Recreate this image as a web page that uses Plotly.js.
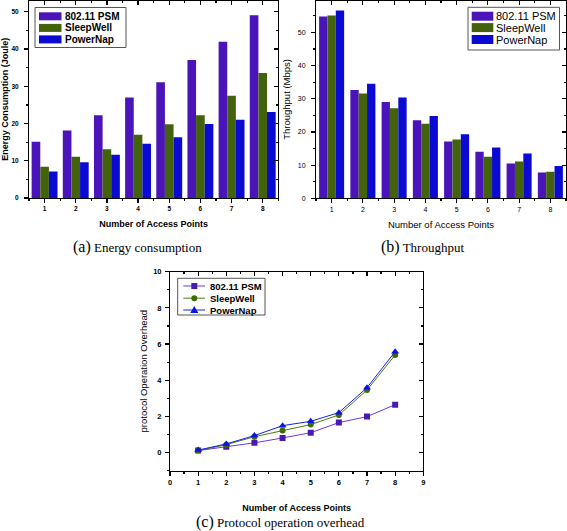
<!DOCTYPE html>
<html><head><meta charset="utf-8">
<script src="https://cdn.plot.ly/plotly-3.0.1.min.js"></script>
<style>html,body{margin:0;padding:0;background:#fff}</style>
</head><body><div id="chart" style="width:567px;height:531px"></div>
<script>
// ---- data ----
const accessPoints = [1, 2, 3, 4, 5, 6, 7, 8];
const seriesNames = ['802.11 PSM', 'SleepWell', 'PowerNap'];
const energyPSM = [15.1, 18.1, 22.2, 27.0, 31.1, 37.1, 42.0, 49.1];
const energySleepWell = [8.4, 11.1, 13.1, 17.0, 19.8, 22.2, 27.5, 33.6];
const energyPowerNap = [7.1, 9.6, 11.6, 14.6, 16.3, 19.9, 21.0, 23.1];
const throughputPSM = [54.8, 32.6, 29.0, 23.5, 17.1, 14.0, 10.5, 7.8];
const throughputSleepWell = [55.1, 31.6, 27.1, 22.5, 17.7, 12.5, 11.1, 8.0];
const throughputPowerNap = [56.6, 34.5, 30.4, 24.8, 19.3, 15.3, 13.5, 9.7];
const overheadPSM = [0.11, 0.33, 0.54, 0.81, 1.10, 1.66, 1.99, 2.65];
const overheadSleepWell = [0.11, 0.44, 0.88, 1.22, 1.55, 2.08, 3.46, 5.40];
const overheadPowerNap = [0.14, 0.48, 0.94, 1.49, 1.73, 2.21, 3.59, 5.58];
const captions = ['(a)', 'Energy consumption', '(b)', 'Throughput', '(c)', 'Protocol operation overhead'];

// ---- styles ----
const W = 567, H = 531;
const px = v => v / W;
const py = v => 1 - v / H;
const barColors = ['#4b14b8', '#42630c', '#0a0ad2'];
const lineColors = ['#6a3ad8', '#4f7a14', '#1424e6'];
const markerColors = ['#4a1ab0', '#3f6a08', '#0a14e0'];
const markerSymbols = ['square', 'circle', 'triangle-up'];
const SANS = 'Liberation Sans, Arial, sans-serif';
const SERIF = 'Liberation Serif, Times New Roman, serif';

const energy = [energyPSM, energySleepWell, energyPowerNap];
const throughput = [throughputPSM, throughputSleepWell, throughputPowerNap];
const overhead = [overheadPSM, overheadSleepWell, overheadPowerNap];

const traces = [];
const wA = 0.277, wB = 0.267;
for (let i = 0; i < 3; i++) {
  traces.push({type: 'bar', name: seriesNames[i], x: accessPoints, y: energy[i], xaxis: 'x', yaxis: 'y',
    width: wA, offset: -1.5 * wA + i * wA, marker: {color: barColors[i], line: {width: 0}}, showlegend: false});
}
for (let i = 0; i < 3; i++) {
  traces.push({type: 'bar', name: seriesNames[i], x: accessPoints, y: throughput[i], xaxis: 'x2', yaxis: 'y2',
    width: wB, offset: -1.5 * wB + i * wB, marker: {color: barColors[i], line: {width: 0}}, showlegend: false});
}
for (let i = 0; i < 3; i++) {
  traces.push({type: 'scatter', mode: 'lines+markers', name: seriesNames[i], x: accessPoints, y: overhead[i],
    xaxis: 'x3', yaxis: 'y3', line: {color: lineColors[i], width: 1},
    marker: {symbol: markerSymbols[i], color: markerColors[i], size: i === 2 ? 7 : 6}, showlegend: false});
}
// placeholder traces (no visible points) so the mirrored inside-tick top/right axes get drawn
[['x4', 'y4'], ['x5', 'y5'], ['x6', 'y6']].forEach(([xa, ya]) => {
  traces.push({type: 'scatter', mode: 'markers', x: [null], y: [null], xaxis: xa, yaxis: ya,
    showlegend: false, hoverinfo: 'skip', marker: {size: 0, opacity: 0}});
});

function mainAxis(o) {
  return Object.assign({
    showline: true, linecolor: '#000', linewidth: 1, mirror: true,
    showgrid: false, zeroline: false, ticks: 'outside', ticklen: 4, tickwidth: 1.2, tickcolor: '#000',
    tickmode: 'linear'
  }, o);
}
function mirrorAxis(o) {
  return Object.assign({
    showline: false, showgrid: false, zeroline: false, ticks: 'inside', ticklen: 4, tickwidth: 1.2,
    tickcolor: '#000', showticklabels: false, tickmode: 'linear', fixedrange: true, autorange: false
  }, o);
}
const minorOut = (t0, d) => ({ticks: 'outside', ticklen: 2, tick0: t0, dtick: d, tickcolor: '#000', tickwidth: 1.2});
const minorIn = (t0, d) => ({ticks: 'inside', ticklen: 2, tick0: t0, dtick: d, tickcolor: '#000', tickwidth: 1.2});
const fA = {family: SANS, size: 6.5, color: '#000', weight: 'bold'};
const fB = {family: SANS, size: 7, color: '#000'};
const fC = {family: SANS, size: 7.5, color: '#000', weight: 'bold'};
const tA = {family: SANS, size: 9, color: '#000', weight: 'bold'};
const tB = {family: SANS, size: 9.5, color: '#000'};

const xA = [0.5, 8.5], yA = [0, 53];
const xB = [0.5, 8.5], yB = [0, 59.6];
const xC = [0, 9], yC = [-1, 10];

const layout = {
  width: W, height: H, margin: {l: 0, r: 0, t: 0, b: 0},
  paper_bgcolor: '#fff', plot_bgcolor: '#fff', showlegend: false, barmode: 'overlay',
  xaxis: mainAxis({domain: [px(29), px(278.3)], anchor: 'y', range: xA, tick0: 1, dtick: 1, tickfont: fA,
    minor: minorOut(0.5, 0.5),
    title: {text: 'Number of Access Points', font: tA, standoff: 9.5}}),
  yaxis: mainAxis({domain: [py(198), py(0.7)], anchor: 'x', range: yA, tick0: 0, dtick: 10, tickfont: fA,
    ticklabelstandoff: 4, minor: minorOut(0, 5),
    title: {text: 'Energy Consumption (Joule)', font: tA, standoff: 4}}),
  xaxis4: mirrorAxis({overlaying: 'x', anchor: 'y4', side: 'top', range: xA, tick0: 1, dtick: 1, minor: minorIn(0.5, 0.5)}),
  yaxis4: mirrorAxis({overlaying: 'y', anchor: 'x4', side: 'right', range: yA, tick0: 0, dtick: 10, minor: minorIn(0, 5)}),

  xaxis2: mainAxis({domain: [px(316), px(566)], anchor: 'y2', range: xB, tick0: 1, dtick: 1, tickfont: fB,
    minor: minorOut(0.5, 0.5),
    title: {text: 'Number of Access Points', font: tB, standoff: 9.5}}),
  yaxis2: mainAxis({domain: [py(198.3), py(0.5)], anchor: 'x2', range: yB, tick0: 0, dtick: 10, tickfont: fB,
    ticklabelstandoff: 4, minor: minorOut(0, 5),
    title: {text: 'Throughput (Mbps)', font: tB, standoff: 5}}),
  xaxis5: mirrorAxis({overlaying: 'x2', anchor: 'y5', side: 'top', range: xB, tick0: 1, dtick: 1, minor: minorIn(0.5, 0.5)}),
  yaxis5: mirrorAxis({overlaying: 'y2', anchor: 'x5', side: 'right', range: yB, tick0: 0, dtick: 10, minor: minorIn(0, 5)}),

  xaxis3: mainAxis({domain: [px(170), px(423.3)], anchor: 'y3', range: xC, tick0: 0, dtick: 1, tickfont: fC,
    minor: minorOut(0.5, 0.5),
    title: {text: 'Number of Access Points', font: tA, standoff: 18}}),
  yaxis3: mainAxis({domain: [py(470.7), py(271.7)], anchor: 'x3', range: yC, tick0: 0, dtick: 2, tickfont: fC,
    ticklabelstandoff: 2, minor: minorOut(-1, 1),
    title: {text: 'protocol Operation Overhead', font: tB, standoff: 3}}),
  xaxis6: mirrorAxis({overlaying: 'x3', anchor: 'y6', side: 'top', range: xC, tick0: 0, dtick: 1, minor: minorIn(0.5, 0.5)}),
  yaxis6: mirrorAxis({overlaying: 'y3', anchor: 'x6', side: 'right', range: yC, tick0: 0, dtick: 2, minor: minorIn(-1, 1)}),

  shapes: [], annotations: []
};

// ---- hand-built legends (compact boxes like the original) ----
function boxShape(x0, y0, x1, y1) {
  layout.shapes.push({type: 'rect', xref: 'paper', yref: 'paper', x0: px(x0), x1: px(x1), y0: py(y1), y1: py(y0),
    line: {color: '#555', width: 1}, fillcolor: 'rgba(255,255,255,0)'});
}
function barLegend(box, rows, sx0, sx1, sh, textX, font) {
  boxShape(box[0], box[1], box[2], box[3]);
  seriesNames.forEach((n, i) => {
    layout.shapes.push({type: 'rect', xref: 'paper', yref: 'paper', x0: px(sx0), x1: px(sx1),
      y0: py(rows[i] + sh / 2), y1: py(rows[i] - sh / 2), line: {width: 0}, fillcolor: barColors[i]});
    layout.annotations.push({xref: 'paper', yref: 'paper', x: px(textX), y: py(rows[i]), xanchor: 'left',
      yanchor: 'middle', showarrow: false, text: n, font: font});
  });
}
barLegend([35, 7.5, 126, 47.5], [16.3, 27.9, 39.4], 39, 61.5, 8, 62.5, {family: SANS, size: 10, color: '#000', weight: 'bold'});
barLegend([468, 7.3, 559.5, 50], [16.2, 27.6, 39.5], 471.7, 493.3, 9, 493.5, {family: SANS, size: 11, color: '#000'});

// line legend for (c)
boxShape(177.7, 278.3, 265, 315);
const rowsC = [286, 298.2, 310];
seriesNames.forEach((n, i) => {
  const yc = rowsC[i], xm = 194.3;
  layout.shapes.push({type: 'line', xref: 'paper', yref: 'paper', x0: px(183.3), x1: px(205), y0: py(yc), y1: py(yc),
    line: {color: lineColors[i], width: 1}});
  if (i === 0) {
    layout.shapes.push({type: 'rect', xref: 'paper', yref: 'paper', x0: px(xm - 3), x1: px(xm + 3), y0: py(yc + 3), y1: py(yc - 3),
      line: {width: 0}, fillcolor: markerColors[i]});
  } else if (i === 1) {
    layout.shapes.push({type: 'circle', xref: 'paper', yref: 'paper', x0: px(xm - 3), x1: px(xm + 3), y0: py(yc + 3), y1: py(yc - 3),
      line: {width: 0}, fillcolor: markerColors[i]});
  } else {
    layout.shapes.push({type: 'path', xref: 'paper', yref: 'paper',
      path: `M${px(xm - 4)},${py(yc + 3)} L${px(xm + 4)},${py(yc + 3)} L${px(xm)},${py(yc - 4)} Z`,
      line: {width: 0}, fillcolor: markerColors[i]});
  }
  layout.annotations.push({xref: 'paper', yref: 'paper', x: px(207.5), y: py(yc), xanchor: 'left', yanchor: 'middle',
    showarrow: false, text: n, font: {family: SANS, size: 9.5, color: '#000', weight: 'bold'}});
});

// ---- captions ----
function caption(label, text, x, y) {
  layout.annotations.push({xref: 'paper', yref: 'paper', x: px(x), y: py(y), xanchor: 'left', yanchor: 'middle',
    showarrow: false, text: `<span style="font-size:16px">${label}</span> ${text}`,
    font: {family: SERIF, size: 13, color: '#000'}});
}
caption(captions[0], captions[1], 71, 246.5);
caption(captions[2], captions[3], 379, 246.5);
caption(captions[4], captions[5], 193.5, 521.5);

Plotly.newPlot('chart', traces, layout, {staticPlot: true, displayModeBar: false});
</script>
</body></html>
